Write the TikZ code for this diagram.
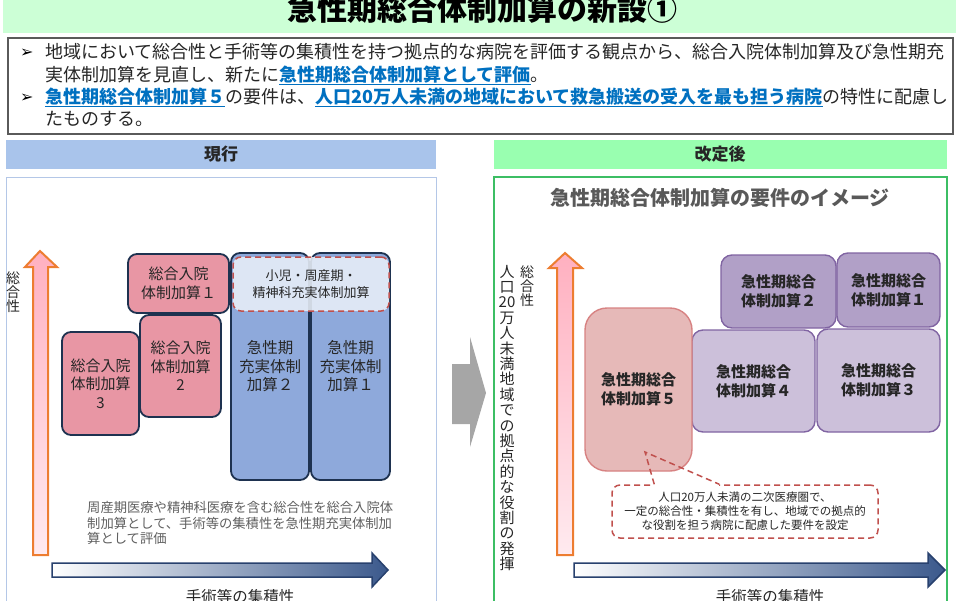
\documentclass[tikz,border=0pt]{standalone}
\usepackage{fontspec}
\setmainfont{Noto Sans CJK JP}
\newfontfamily\symfont{DejaVu Sans}
\definecolor{titlegreen}{RGB}{204,255,214}
\definecolor{leftband}{RGB}{169,196,235}
\definecolor{rightband}{RGB}{153,255,176}
\definecolor{leftframe}{RGB}{180,199,231}
\definecolor{rightframe}{RGB}{60,190,100}
\definecolor{boxgray}{RGB}{90,90,90}
\definecolor{hlblue}{RGB}{0,112,192}
\definecolor{txt}{RGB}{38,38,38}
\definecolor{notegray}{RGB}{95,95,95}
\definecolor{pinkfill}{RGB}{232,150,164}
\definecolor{bluefill}{RGB}{142,169,219}
\definecolor{navy}{RGB}{30,50,80}
\definecolor{overlay}{RGB}{233,239,248}
\definecolor{dashred}{RGB}{192,80,77}
\definecolor{purpledark}{RGB}{177,160,199}
\definecolor{purplelight}{RGB}{204,192,218}
\definecolor{purpleline}{RGB}{128,100,162}
\definecolor{salmon}{RGB}{230,185,184}
\definecolor{salmonline}{RGB}{215,130,130}
\definecolor{orangeline}{RGB}{237,125,49}
\definecolor{pinktop}{RGB}{255,176,192}
\definecolor{pinkbot}{RGB}{255,234,239}
\definecolor{navyfill}{RGB}{59,89,140}
\definecolor{navyline}{RGB}{40,65,110}
\definecolor{midgray}{RGB}{166,166,166}
\definecolor{titlegray}{RGB}{89,89,89}
\newcommand{\hl}[1]{\textcolor{hlblue}{\underline{\textbf{#1}}}}

\begin{document}
\begin{tikzpicture}[x=1pt,y=-1pt,
    introtxt/.style={anchor=base west, inner sep=0pt, text=txt, font=\fontsize{18}{18}\selectfont},
    bullet/.style={anchor=base west, inner sep=0pt, text=black, font=\symfont\bfseries\fontsize{16}{16}\selectfont},
    headtxt/.style={text=txt, font=\bfseries\fontsize{17}{17}\selectfont},
    vtxt/.style={align=center, inner sep=0pt, text=txt, font=\fontsize{14}{13.8}\selectfont},
    axtxt/.style={inner sep=0pt, text=txt, font=\fontsize{15.5}{15.5}\selectfont},
    pinkbox/.style={draw=navy, line width=1.8pt, fill=pinkfill, rounded corners=9pt, align=center, inner sep=0pt, text=txt, font=\fontsize{15}{18.5}\selectfont},
    bluebox/.style={pinkbox, fill=bluefill, font=\fontsize{15.5}{18.5}\selectfont},
    newbox/.style={draw=purpleline, line width=1.4pt, rounded corners=11pt, align=center, inner sep=0pt, text=txt, font=\bfseries\fontsize{15}{19}\selectfont},
    uparrow/.style={draw=orangeline, line width=2pt, top color=pinktop, bottom color=pinkbot},
    rightarrow/.style={draw=navyline, line width=1.5pt, left color=white, right color=navyfill},
    dashline/.style={draw=dashred, line width=1.5pt, dash pattern=on 6pt off 4pt}]
\useasboundingbox (0,0) rectangle (960,600);

\fill[titlegreen] (3,0) rectangle (956,33);
\node[font=\bfseries\fontsize{30}{30}\selectfont, text=black] (title) at (482,9) {急性期総合体制加算の新設①};

\draw[boxgray, line width=1.2pt] (8,38) rectangle (953,134);
\node[bullet] (b1) at (20,57) {➢};
\node[introtxt] (l1) at (45,58) {地域において総合性と手術等の集積性を持つ拠点的な病院を評価する観点から、総合入院体制加算及び急性期充};
\node[introtxt] (l2) at (45,81) {実体制加算を見直し、新たに\hl{急性期総合体制加算として評価}。};
\node[bullet] (b2) at (20,102) {➢};
\node[introtxt] (l3) at (45,103) {\hl{急性期総合体制加算５}の要件は、\hl{人口20万人未満の地域において救急搬送の受入を最も担う病院}の特性に配慮し};
\node[introtxt] (l4) at (45,125) {たものする。};

\fill[leftband] (6,140) rectangle (436,169);
\node[headtxt] (now) at (221,154) {現行};
\draw[leftframe, line width=1pt] (6,177) rectangle (436,610);

\fill[rightband] (494,140) rectangle (947,169);
\node[headtxt] (after) at (720,154) {改定後};
\draw[rightframe, line width=1.2pt] (494,177) rectangle (947,610);

\fill[midgray] (452,364) -- (470,364) -- (470,337) -- (486,393) -- (470,447) -- (470,424) -- (452,424) -- cycle;

\draw[uparrow] (33,555) -- (33,267) -- (25,267) -- (40,251) -- (57,267) -- (48,267) -- (48,555) -- cycle;
\draw[rightarrow] (52,563) -- (372,563) -- (372,553) -- (388,570) -- (372,587) -- (372,577) -- (52,577) -- cycle;
\node[vtxt] (axisL) at (13,292) {総\\合\\性};
\node[axtxt] (skillL) at (240,597) {手術等の集積性};

\node[pinkbox, minimum width=77pt, minimum height=103pt] (sogo3) at (100.5,383.5) {総合入院\\体制加算\\3};
\node[pinkbox, minimum width=81pt, minimum height=102pt] (sogo2) at (180.5,366) {総合入院\\体制加算\\2};
\node[pinkbox, minimum width=101pt, minimum height=59pt] (sogo1) at (178.5,283.5) {総合入院\\体制加算１};
\node[bluebox, minimum width=78pt, minimum height=227pt] (jusei2) at (270,366.5) {急性期\\充実体制\\加算２};
\node[bluebox, minimum width=79pt, minimum height=227pt] (jusei1) at (350.5,366.5) {急性期\\充実体制\\加算１};
\node[dashline, fill=overlay, fill opacity=0.88, text opacity=1, rounded corners=8pt, minimum width=156pt, minimum height=54pt, align=center, inner sep=0pt, text=txt, font=\fontsize{13}{17}\selectfont] (shoni) at (311,284) {小児・周産期・\\精神科充実体制加算};
\node[anchor=west, align=left, inner sep=0pt, text=notegray, font=\fontsize{13.3}{15.5}\selectfont] (noteL) at (87,523) {周産期医療や精神科医療を含む総合性を総合入院体\\制加算として、手術等の集積性を急性期充実体制加\\算として評価};

\node[font=\bfseries\fontsize{20}{20}\selectfont, text=titlegray] (image) at (720,198) {急性期総合体制加算の要件のイメージ};

\draw[uparrow] (557,555) -- (557,268) -- (549,268) -- (565,253) -- (582,268) -- (573,268) -- (573,555) -- cycle;
\draw[rightarrow] (574,563) -- (928,563) -- (928,553) -- (945,570) -- (928,587) -- (928,577) -- (574,577) -- cycle;
\node[vtxt] (axisR) at (527,286) {総\\合\\性};
\node[vtxt, font=\fontsize{15}{15.4}\selectfont] (region) at (507,418) {人\\口\\20\\万\\人\\未\\満\\地\\域\\で\\の\\拠\\点\\的\\な\\役\\割\\の\\発\\揮};
\node[axtxt] (skillR) at (770,597) {手術等の集積性};

\node[newbox, fill=purpledark, minimum width=115pt, minimum height=73pt] (k2) at (778.5,291.5) {急性期総合\\体制加算２};
\node[newbox, fill=purpledark, minimum width=103pt, minimum height=74pt] (k1) at (888.5,290) {急性期総合\\体制加算１};
\node[newbox, fill=purplelight, minimum width=123pt, minimum height=102pt] (k4) at (753.5,381) {急性期総合\\体制加算４};
\node[newbox, fill=purplelight, minimum width=123pt, minimum height=103pt] (k3) at (878.5,380.5) {急性期総合\\体制加算３};
\node[newbox, draw=salmonline, fill=salmon, rounded corners=22pt, minimum width=107pt, minimum height=163pt] (k5) at (638.5,389.5) {急性期総合\\体制加算５};

\node[dashline, fill=white, rounded corners=8pt, minimum width=266pt, minimum height=53pt, align=center, inner sep=0pt, text=txt, font=\fontsize{11.5}{14}\selectfont] (callout) at (745,511.5) {人口20万人未満の二次医療圏で、\\一定の総合性・集積性を有し、地域での拠点的\\な役割を担う病院に配慮した要件を設定};
\coordinate (pl) at ([xshift=43pt]callout.north west);
\coordinate (pr) at ([xshift=108pt]callout.north west);
\coordinate (ptr) at (645,452);
\draw[white, line width=2.5pt] (pl) -- (pr);
\draw[dashline] (pl) -- (ptr) -- (pr);
\end{tikzpicture}
\end{document}
